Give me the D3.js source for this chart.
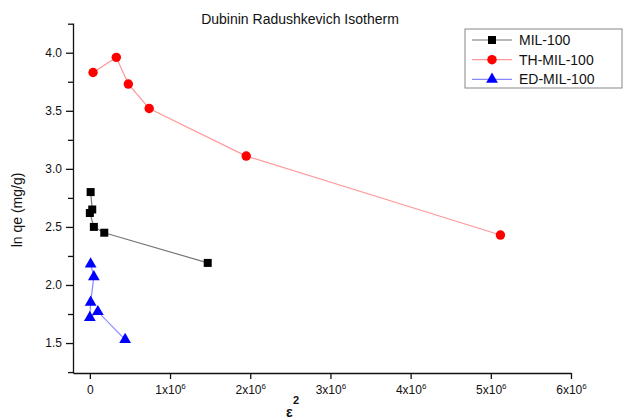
<!DOCTYPE html>
<html>
<head>
    <title>Dubinin Radushkevich Isotherm</title>
    <style>
        body { margin: 0; background: #fff; }
        #chart { width: 625px; height: 420px; }
        text { font-family: Arial, "Liberation Sans", sans-serif; fill: #111; }
        .axis path, .axis line { stroke: #111; stroke-width: 1.3; }
        .axis text { font-size: 12px; }
    </style>
</head>
<body>
    <div id="chart"></div>

    <script src="https://d3js.org/d3.v7.min.js"></script>
    <script>
        // values (x in units of 1e6)
        var milX = [0.01, 0.03, 0.0, 0.05, 0.18, 1.47];
        var milY = [2.80, 2.65, 2.62, 2.50, 2.45, 2.19];
        var thX = [0.04, 0.33, 0.48, 0.74, 1.95, 5.12];
        var thY = [3.83, 3.96, 3.73, 3.52, 3.11, 2.43];
        var edX = [0.01, 0.05, 0.01, 0.0, 0.10, 0.44];
        var edY = [2.18, 2.07, 1.85, 1.72, 1.77, 1.53];
        var xTicks = [0, 1, 2, 3, 4, 5, 6];
        var yTicks = [1.5, 2.0, 2.5, 3.0, 3.5, 4.0];

        var series = [
            { name: "MIL-100", xs: milX, ys: milY, color: "#000", line: "#777", symbol: d3.symbolSquare, size: 64 },
            { name: "TH-MIL-100", xs: thX, ys: thY, color: "#f00", line: "#f99", symbol: d3.symbolCircle, size: 70 },
            { name: "ED-MIL-100", xs: edX, ys: edY, color: "#00f", line: "#88f", symbol: d3.symbolTriangle, size: 60 }
        ];

        var width = 625, height = 420;
        var svg = d3.select("#chart").append("svg")
            .attr("width", width)
            .attr("height", height);

        var x = d3.scaleLinear().domain([-0.21, 6]).range([73, 571]);
        var y = d3.scaleLinear().domain([1.242, 4.256]).range([373, 23]);

        // x axis
        var xAxis = svg.append("g")
            .attr("class", "axis")
            .attr("transform", "translate(0,373)")
            .call(d3.axisBottom(x).tickValues(xTicks).tickSize(6).tickSizeOuter(0).tickFormat(""));
        xAxis.selectAll(".tick").append("text")
            .attr("y", 21)
            .attr("text-anchor", "middle")
            .each(function (d) {
                var t = d3.select(this);
                if (d === 0) { t.text("0"); return; }
                t.append("tspan").text(d + "x10");
                t.append("tspan").attr("dy", -5).attr("font-size", "8px").text("6");
            });

        // y axis with minor ticks
        var yAxis = svg.append("g")
            .attr("class", "axis")
            .attr("transform", "translate(73,0)")
            .call(d3.axisLeft(y).tickValues(yTicks).tickSize(7).tickSizeOuter(0).tickFormat(d3.format(".1f")));
        yAxis.selectAll(".tick text").attr("x", -11);
        svg.append("g")
            .attr("class", "axis")
            .attr("transform", "translate(73,0)")
            .call(d3.axisLeft(y).tickValues([1.25, 1.75, 2.25, 2.75, 3.25, 3.75, 4.25]).tickSize(5).tickFormat(""))
            .select(".domain").remove();

        // labels
        svg.append("text")
            .attr("x", 300).attr("y", 24)
            .attr("text-anchor", "middle")
            .attr("font-size", "14px")
            .text("Dubinin Radushkevich Isotherm");

        svg.append("text")
            .attr("transform", "translate(22,210) rotate(-90)")
            .attr("text-anchor", "middle")
            .attr("font-size", "14px")
            .text("ln qe (mg/g)");

        svg.append("text")
            .attr("x", 293).attr("y", 404)
            .attr("font-family", "Liberation Serif, serif")
            .attr("font-weight", "bold")
            .attr("font-size", "11px")
            .text("2");
        svg.append("text")
            .attr("x", 286).attr("y", 417)
            .attr("font-family", "Liberation Serif, serif")
            .attr("font-weight", "bold")
            .attr("font-size", "14px")
            .text("ε");

        // series
        var line = d3.line()
            .x(function (d) { return x(d[0]); })
            .y(function (d) { return y(d[1]); });

        series.forEach(function (s) {
            var pts = d3.zip(s.xs, s.ys);
            svg.append("path")
                .datum(pts)
                .attr("fill", "none")
                .attr("stroke", s.line)
                .attr("stroke-width", 1.2)
                .attr("d", line);
            svg.selectAll(null)
                .data(pts)
                .enter().append("path")
                .attr("transform", function (d) { return "translate(" + x(d[0]) + "," + y(d[1]) + ")"; })
                .attr("fill", s.color)
                .attr("d", d3.symbol().type(s.symbol).size(s.size));
        });

        // legend
        var legend = svg.append("g").attr("transform", "translate(465,29)");
        legend.append("rect")
            .attr("width", 157).attr("height", 59)
            .attr("fill", "#fff")
            .attr("stroke", "#888");
        series.forEach(function (s, i) {
            var g = legend.append("g").attr("transform", "translate(0," + (11 + i * 19.7) + ")");
            g.append("line")
                .attr("x1", 7).attr("x2", 47)
                .attr("stroke", s.line).attr("stroke-width", 1.2);
            g.append("path")
                .attr("transform", "translate(27,0)")
                .attr("fill", s.color)
                .attr("d", d3.symbol().type(s.symbol).size(s.size));
            g.append("text")
                .attr("x", 54).attr("y", 5)
                .attr("font-size", "14px")
                .text(s.name);
        });
    </script>
</body>
</html>
